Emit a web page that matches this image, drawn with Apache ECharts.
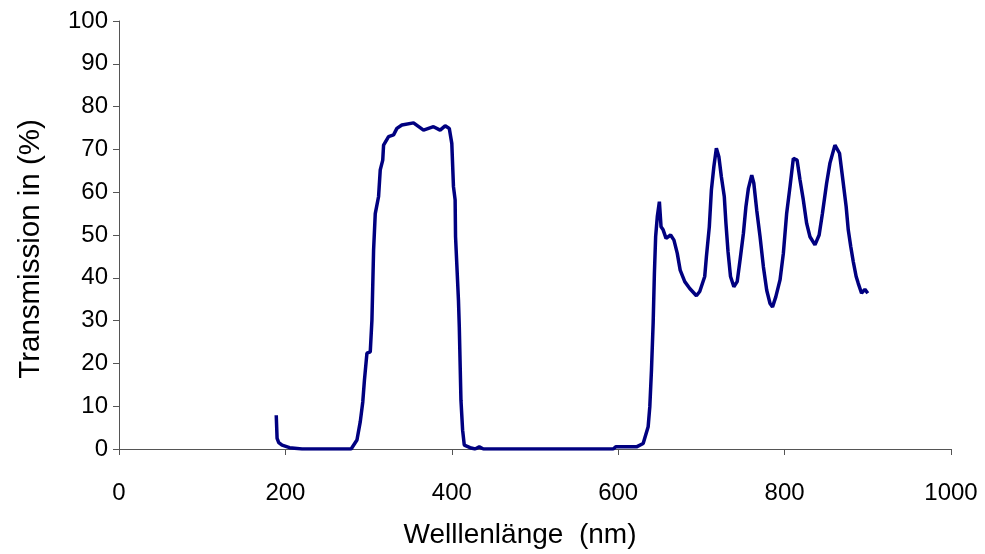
<!DOCTYPE html>
<html>
<head>
<meta charset="utf-8">
<script src="https://cdn.jsdelivr.net/npm/echarts@6/dist/echarts.min.js"></script>
<style>html,body{margin:0;padding:0;background:#fff}#c{width:985px;height:554px}</style>
</head>
<body>
<div id="c"></div>
<script>
var wavelength = [189, 190, 192, 196, 205, 220, 250, 279, 286, 290, 293, 295, 298, 302, 304, 306, 308, 312, 314, 317, 318, 324, 330, 334, 340, 354, 366, 378, 386, 392, 397, 400, 402, 404, 404.5, 408, 409, 411, 413, 415, 422, 428, 433, 438, 450, 500, 550, 594, 597, 610, 622, 630, 636, 638, 640, 642, 643.5, 645, 647, 649.5, 651.5, 654, 657.5, 663, 667, 671, 674.5, 680, 686, 694, 698, 704, 706, 709.5, 712, 715, 718, 721, 724, 727.5, 729.5, 732, 735, 739, 743, 746.5, 750.5, 753.5, 756.5, 760.5, 763, 766.5, 770.5, 774.5, 778.5, 782.5, 785.5, 789.5, 794.5, 798.5, 802.5, 806.5, 810.5, 815, 818.5, 822.5, 826.5, 830.5, 836.5, 841.5, 845.5, 850.5, 854.5, 860.5, 866, 870, 874, 876.5, 879.5, 882.5, 886, 888.5, 892.5, 896.5, 900];
var transmission = [7.9, 2.5, 1.5, 0.9, 0.3, 0, 0, 0, 2.1, 6.4, 11, 16.1, 22.4, 22.7, 30.1, 46.5, 55, 59, 65.2, 67.5, 71, 73, 73.4, 74.9, 75.7, 76.2, 74.5, 75.3, 74.5, 75.5, 74.9, 71.4, 61.3, 58.2, 49.6, 34.8, 28.6, 11.4, 4.4, 0.9, 0.3, 0, 0.5, 0, 0, 0, 0, 0, 0.5, 0.5, 0.5, 1.3, 5.2, 9.9, 18.5, 29.4, 41, 49.6, 54.3, 57.8, 51.9, 51.2, 49.2, 50, 48.8, 45.7, 41.8, 39.1, 37.5, 35.8, 36.8, 40.3, 44.9, 51.9, 60.5, 66, 70.3, 68.3, 63.6, 59, 52.7, 46.1, 40.3, 37.9, 39.1, 44.2, 50.4, 56.6, 60.9, 64, 62.1, 55.8, 49.6, 42.6, 37.1, 34, 33.2, 35.6, 39.5, 45.7, 55.1, 61.3, 67.9, 67.5, 62.9, 58.2, 52.7, 49.6, 47.7, 50, 55.1, 62.1, 66.8, 71, 69.1, 62.9, 56.6, 51.2, 47.3, 43.8, 40.3, 38.7, 36.4, 37.3, 36.4];
var xTicks = [0, 200, 400, 600, 800, 1000];
var yTicks = [0, 10, 20, 30, 40, 50, 60, 70, 80, 90, 100];

var data = wavelength.map(function (w, i) { return [w, transmission[i]]; });
var chart = echarts.init(document.getElementById('c'), null, { renderer: 'canvas' });
var font = '"Liberation Sans", Arial, sans-serif';
chart.setOption({
  animation: false,
  backgroundColor: '#ffffff',
  grid: { left: 119, right: 34, top: 21, bottom: 105 },
  xAxis: {
    type: 'value', min: xTicks[0], max: xTicks[xTicks.length - 1], interval: 200,
    name: 'Welllenlänge  (nm)', nameLocation: 'middle', nameGap: 72,
    nameTextStyle: { fontFamily: font, fontSize: 28, color: '#000', padding: [0, 30, 0, 0] },
    axisLine: { show: true, onZero: false, lineStyle: { color: '#555', width: 1 } },
    axisTick: { show: true, length: 6, inside: false, lineStyle: { color: '#555' } },
    axisLabel: { margin: 32, fontFamily: font, fontSize: 24, color: '#000', formatter: function (v) { return String(v); } },
    splitLine: { show: false }
  },
  yAxis: {
    type: 'value', min: yTicks[0], max: yTicks[yTicks.length - 1], interval: 10,
    name: 'Transmission in (%)', nameLocation: 'middle', nameGap: 73, nameRotate: 90,
    nameTextStyle: { fontFamily: font, fontSize: 29.5, color: '#000', padding: [0, 28, 0, 0] },
    axisLine: { show: true, lineStyle: { color: '#555', width: 1 } },
    axisTick: { show: true, length: 6, inside: false, lineStyle: { color: '#555' } },
    axisLabel: { margin: 11, fontFamily: font, fontSize: 24, color: '#000', formatter: function (v) { return String(v); } },
    splitLine: { show: false }
  },
  series: [{
    type: 'line', data: data, showSymbol: false, smooth: false,
    lineStyle: { color: '#000080', width: 3.5 }, itemStyle: { color: '#000080' }
  }]
});
</script>
</body>
</html>
